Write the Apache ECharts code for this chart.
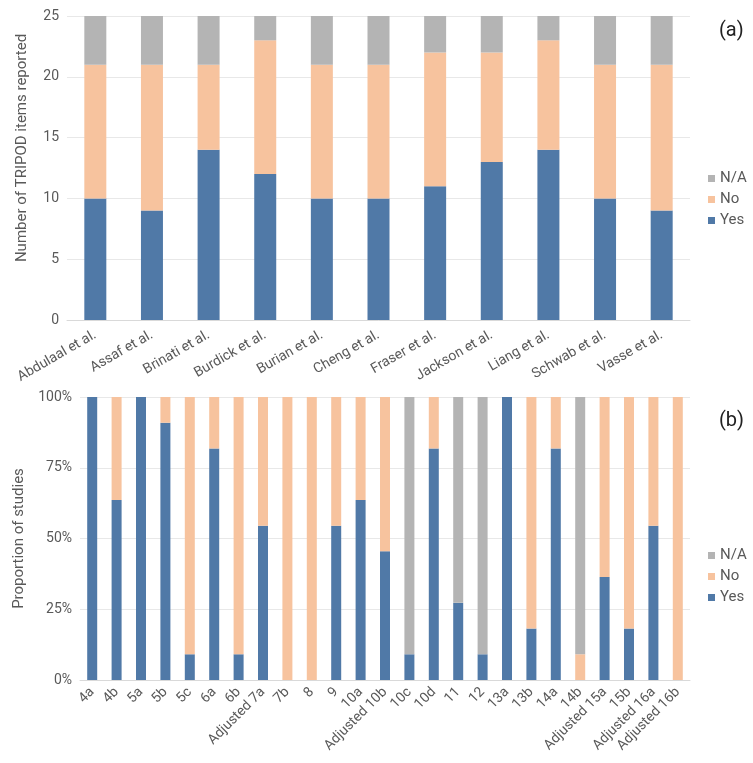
<!DOCTYPE html>
<html>
<head>
<meta charset="utf-8">
<script src="https://cdn.jsdelivr.net/npm/echarts@6/dist/echarts.min.js"></script>
<style>
  html, body { margin: 0; padding: 0; background: #fff; }
  #chart { width: 753px; height: 763px; }
</style>
</head>
<body>
<div id="chart"></div>
<script>
// (a) items reported per study
const studies = ['Abdulaal et al.', 'Assaf et al.', 'Brinati et al.', 'Burdick et al.', 'Burian et al.',
  'Cheng et al.', 'Fraser et al.', 'Jackson et al.', 'Liang et al.', 'Schwab et al.', 'Vasse et al.'];
const studyYes = [10, 9, 14, 12, 10, 10, 11, 13, 14, 10, 9];
const studyNo = [11, 12, 7, 11, 11, 11, 11, 9, 9, 11, 12];
const studyNA = [4, 4, 4, 2, 4, 4, 3, 3, 2, 4, 4];

// (b) number of studies (out of 11) per TRIPOD item
const items = ['4a', '4b', '5a', '5b', '5c', '6a', '6b', 'Adjusted 7a', '7b', '8', '9', '10a', 'Adjusted 10b',
  '10c', '10d', '11', '12', '13a', '13b', '14a', '14b', 'Adjusted 15a', '15b', 'Adjusted 16a', 'Adjusted 16b'];
const itemYes = [11, 7, 11, 10, 1, 9, 1, 6, 0, 0, 6, 7, 5, 1, 9, 3, 1, 11, 2, 9, 0, 4, 2, 6, 0];
const itemNo = [0, 4, 0, 1, 10, 2, 10, 5, 11, 11, 5, 4, 6, 0, 2, 0, 0, 0, 9, 2, 1, 7, 9, 5, 11];
const itemNA = [0, 0, 0, 0, 0, 0, 0, 0, 0, 0, 0, 0, 0, 10, 0, 8, 10, 0, 0, 0, 10, 0, 0, 0, 0];
const nStudies = 11;

const colors = { Yes: '#5079a7', No: '#f7c39e', 'N/A': '#b4b4b4' };
const textColor = '#595959';
const font = 'Roboto';

const pct = arr => arr.map(v => v / nStudies * 100);

const chart = echarts.init(document.getElementById('chart'));

const yAxisBase = {
  axisLine: { show: false },
  axisTick: { show: false },
  splitLine: { lineStyle: { color: '#e8e8e8' } },
  axisLabel: { color: textColor, fontSize: 14, fontFamily: font },
  nameLocation: 'middle'
};

const xAxisBase = {
  type: 'category',
  axisTick: { show: false },
  axisLine: { lineStyle: { color: '#d9d9d9' } }
};

function bar(name, xi, data, width) {
  return {
    name: name,
    type: 'bar',
    stack: 'g' + xi,
    xAxisIndex: xi,
    yAxisIndex: xi,
    barWidth: width,
    itemStyle: { color: colors[name] },
    data: data
  };
}

const legendBase = {
  orient: 'vertical',
  data: ['N/A', 'No', 'Yes'],
  icon: 'rect',
  itemWidth: 7,
  itemHeight: 7,
  itemGap: 6,
  textStyle: { color: textColor, fontSize: 15, fontFamily: font }
};

const option = {
  animation: false,
  textStyle: { fontFamily: font },
  title: [
    { text: '(a)', left: 714, top: 16, textStyle: { fontSize: 20, fontWeight: 'normal', color: '#222', fontFamily: font } },
    { text: '(b)', left: 714, top: 406, textStyle: { fontSize: 20, fontWeight: 'normal', color: '#222', fontFamily: font } }
  ],
  legend: [
    Object.assign({}, legendBase, { left: 703, top: 166 }),
    Object.assign({}, legendBase, { left: 703, top: 543 })
  ],
  grid: [
    { left: 67, right: 63, top: 16, height: 304 },
    { left: 80, right: 63, top: 397, height: 283 }
  ],
  xAxis: [
    Object.assign({}, xAxisBase, {
      gridIndex: 0,
      data: studies,
      axisLabel: { rotate: 30, color: textColor, fontSize: 14, fontFamily: font, margin: 14, interval: 0 }
    }),
    Object.assign({}, xAxisBase, {
      gridIndex: 1,
      data: items,
      axisLabel: { rotate: 45, color: textColor, fontSize: 14, fontFamily: font, margin: 10, interval: 0 }
    })
  ],
  yAxis: [
    Object.assign({}, yAxisBase, {
      gridIndex: 0, type: 'value', min: 0, max: 25, interval: 5,
      name: 'Number of TRIPOD items reported', nameGap: 37,
      nameTextStyle: { color: textColor, fontSize: 15, fontFamily: font, padding: [0, 0, 0, 40] }
    }),
    Object.assign({}, yAxisBase, {
      gridIndex: 1, type: 'value', min: 0, max: 100, interval: 25,
      name: 'Proportion of studies', nameGap: 47,
      nameTextStyle: { color: textColor, fontSize: 15, fontFamily: font },
      axisLabel: Object.assign({}, yAxisBase.axisLabel, { formatter: '{value}%' })
    })
  ],
  series: [
    bar('Yes', 0, studyYes, 22),
    bar('No', 0, studyNo, 22),
    bar('N/A', 0, studyNA, 22),
    bar('Yes', 1, pct(itemYes), 10),
    bar('No', 1, pct(itemNo), 10),
    bar('N/A', 1, pct(itemNA), 10)
  ]
};

chart.setOption(option);
</script>
</body>
</html>
